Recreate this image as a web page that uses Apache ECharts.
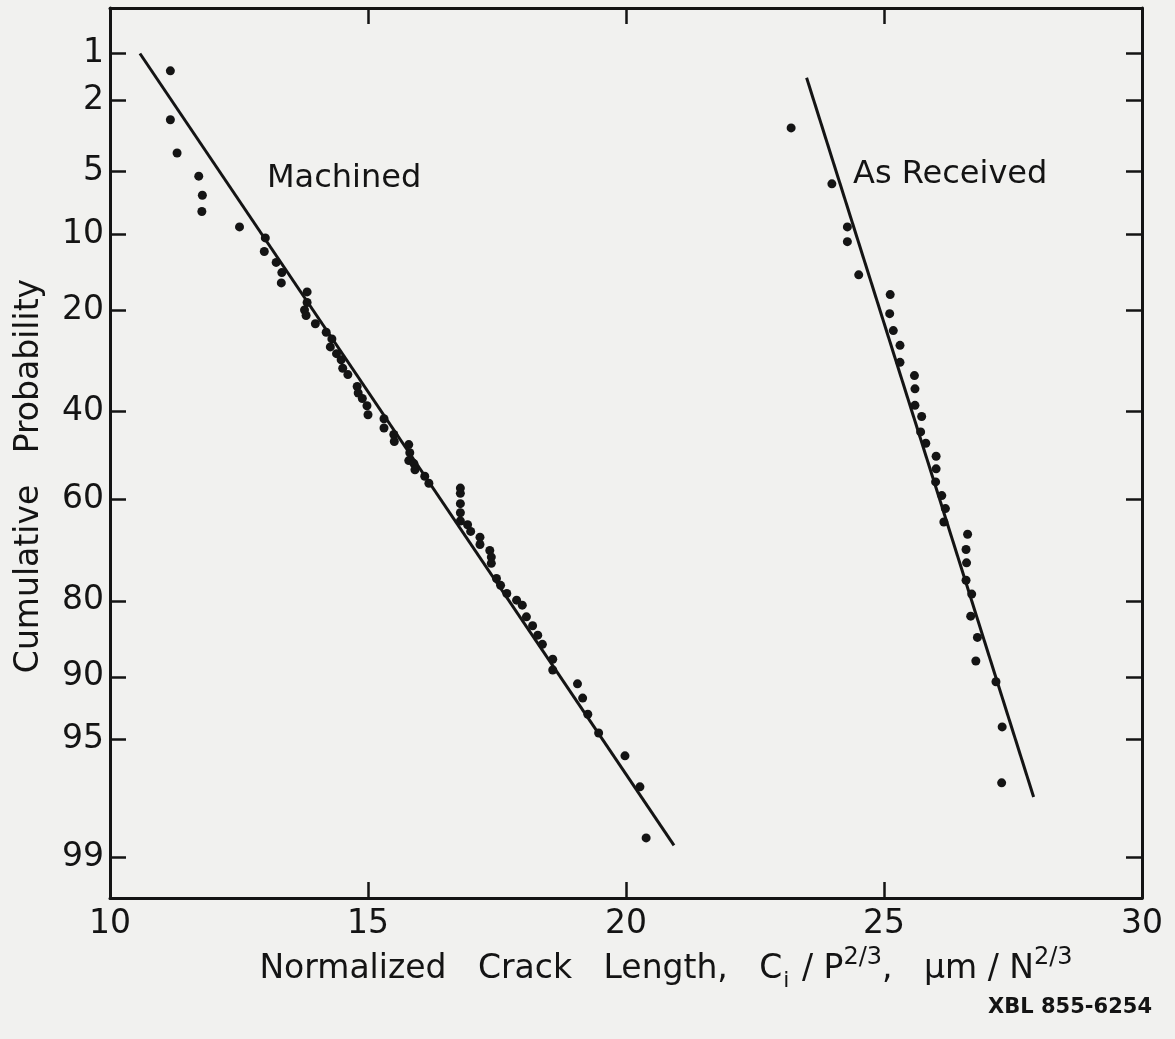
<!DOCTYPE html>
<html>
<head>
<meta charset="utf-8">
<script src="https://cdn.jsdelivr.net/npm/echarts@6/dist/echarts.min.js"></script>
<style>
html,body{margin:0;padding:0;background:#f1f1ef;}
#chart{width:1175px;height:1039px;}
</style>
</head>
<body>
<div id="chart"></div>
<script>
// ---- data (x = normalized crack length, p = cumulative probability in %) ----
const machinedX = [11.17,11.17,11.30,11.72,11.79,11.78,12.51,13.01,12.99,13.22,13.33,13.32,13.82,13.82,13.77,13.80,13.98,14.19,14.30,14.27,14.39,14.48,14.51,14.61,14.79,14.81,14.89,14.98,15.00,15.31,15.31,15.50,15.51,15.79,15.81,15.79,15.89,15.91,16.10,16.18,16.79,16.79,16.79,16.79,16.79,16.93,16.99,17.17,17.17,17.36,17.39,17.39,17.49,17.57,17.69,17.88,17.99,18.07,18.19,18.29,18.38,18.58,18.58,19.06,19.16,19.26,19.47,19.98,20.27,20.39];
const machinedP = [1.3,2.6,4.0,5.3,6.6,7.9,9.3,10.4,11.9,13.2,14.5,15.9,17.2,18.8,20.0,20.9,22.3,23.8,25.0,26.5,27.8,29.0,30.7,32.0,34.5,35.9,37.1,38.7,40.7,41.6,43.7,45.2,46.8,47.5,49.4,51.2,51.9,53.3,54.8,56.4,57.5,58.7,61.0,63.0,64.8,65.6,67.0,68.2,69.7,70.9,72.2,73.4,76.2,77.4,78.8,79.9,80.7,82.5,83.8,85.1,86.3,88.1,89.3,90.7,92.0,93.3,94.6,95.9,97.25,98.66];
const asReceivedX = [23.20,23.99,24.29,24.29,24.51,25.12,25.11,25.18,25.31,25.31,25.59,25.60,25.60,25.73,25.71,25.81,26.01,26.01,26.00,26.12,26.19,26.16,26.62,26.59,26.60,26.59,26.70,26.68,26.81,26.78,27.17,27.29,27.28];
const asReceivedP = [2.9,5.8,9.3,10.8,14.8,17.6,20.6,23.5,26.2,29.5,32.2,35.0,38.6,41.1,44.6,47.2,50.2,53.1,56.1,59.2,62.1,65.0,67.6,70.7,73.3,76.5,78.9,82.4,85.4,88.3,90.5,94.2,97.1];
const machinedFitX = [10.58, 20.93];
const machinedFitP = [1.0, 98.8];
const asReceivedFitX = [23.50, 27.90];
const asReceivedFitP = [1.44, 97.6];
const probTicks = [1,2,5,10,20,40,60,80,90,95,99];
const xTicks = [10,15,20,25,30];
const yRangeP = [0.48, 99.48];
const xRange = [10, 30];

// inverse standard normal CDF (Acklam)
function probit(p){
  const a=[-3.969683028665376e+01,2.209460984245205e+02,-2.759285104469687e+02,1.383577518672690e+02,-3.066479806614716e+01,2.506628277459239e+00];
  const b=[-5.447609879822406e+01,1.615858368580409e+02,-1.556989798598866e+02,6.680131188771972e+01,-1.328068155288572e+01];
  const c=[-7.784894002430293e-03,-3.223964580411365e-01,-2.400758277161838e+00,-2.549732539343734e+00,4.374664141464968e+00,2.938163982698783e+00];
  const d=[7.784695709041462e-03,3.224671290700398e-01,2.445134137142996e+00,3.754408661907416e+00];
  const pl=0.02425, ph=1-pl; let q,r;
  if(p<pl){q=Math.sqrt(-2*Math.log(p));return (((((c[0]*q+c[1])*q+c[2])*q+c[3])*q+c[4])*q+c[5])/((((d[0]*q+d[1])*q+d[2])*q+d[3])*q+1);}
  if(p<=ph){q=p-0.5;r=q*q;return (((((a[0]*r+a[1])*r+a[2])*r+a[3])*r+a[4])*r+a[5])*q/(((((b[0]*r+b[1])*r+b[2])*r+b[3])*r+b[4])*r+1);}
  q=Math.sqrt(-2*Math.log(1-p));return -(((((c[0]*q+c[1])*q+c[2])*q+c[3])*q+c[4])*q+c[5])/((((d[0]*q+d[1])*q+d[2])*q+d[3])*q+1);
}
const z = pct => probit(pct/100);
const pairs = (xs, ps) => xs.map((x,i)=>[x, z(ps[i])]);
const zTicks = probTicks.map(z);

const INK = '#141414';
const FONT = '"DejaVu Sans", "Open Sans", sans-serif';

const chart = echarts.init(document.getElementById('chart'));
const common = {
  min: xRange[0], max: xRange[1], interval: 5,
  axisLine: {show:true, onZero:false, lineStyle:{color:INK, width:3}},
  axisTick: {show:true, inside:true, length:16, lineStyle:{color:INK, width:2.5}},
  splitLine: {show:false}
};
const yCommon = {
  type:'value', inverse:true,
  min: z(yRangeP[0]), max: z(yRangeP[1]),
  axisLine: {show:true, onZero:false, lineStyle:{color:INK, width:3}},
  axisTick: {show:true, inside:true, length:16, customValues: zTicks, lineStyle:{color:INK, width:2.5}},
  splitLine: {show:false}
};
chart.setOption({
  backgroundColor:'#f1f1ef',
  animation:false,
  grid:{left:110, top:8, right:33, bottom:141, containLabel:false},
  xAxis:[
    Object.assign({type:'value', position:'bottom',
      axisLabel:{show:true, fontSize:33, color:INK, fontFamily:FONT, margin:10},
      name:'{t|Normalized   Crack   Length,   C}{sub|i}{t| / P}{sup|2/3}{t|,   \u03bcm / N}{sup|2/3}',
      nameLocation:'middle', nameGap:43,
      nameTextStyle:{color:INK, fontFamily:FONT, fontSize:33, padding:[0,0,0,80],
        rich:{
          t:{fontSize:33, fontFamily:FONT, color:INK, verticalAlign:'bottom', padding:[0,0,6,0]},
          sub:{fontSize:22, fontFamily:FONT, color:INK, verticalAlign:'bottom', padding:[0,2,0,1]},
          sup:{fontSize:24, fontFamily:FONT, color:INK, verticalAlign:'bottom', padding:[0,0,22,0]}
        }}
    }, common),
    Object.assign({type:'value', position:'top', axisLabel:{show:false}}, common)
  ],
  yAxis:[
    Object.assign({position:'left',
      axisLabel:{show:true, customValues: zTicks, fontSize:33, color:INK, fontFamily:FONT, margin:6,
        formatter: v => { const i = zTicks.findIndex(t => Math.abs(t - v) < 1e-6); return i >= 0 ? String(probTicks[i]) : ''; }},
      name:'Cumulative   Probability', nameLocation:'middle', nameGap:64,
      nameTextStyle:{color:INK, fontFamily:FONT, fontSize:33, padding:[0,46,0,0]}
    }, yCommon),
    Object.assign({position:'right', axisLabel:{show:false}}, yCommon)
  ],
  series:[
    {type:'scatter', name:'Machined', data:pairs(machinedX, machinedP), symbolSize:9, itemStyle:{color:INK, opacity:1}},
    {type:'scatter', name:'As Received', data:pairs(asReceivedX, asReceivedP), symbolSize:9, itemStyle:{color:INK, opacity:1}},
    {type:'line', data:pairs(machinedFitX, machinedFitP), symbol:'none', lineStyle:{color:INK, width:3}},
    {type:'line', data:pairs(asReceivedFitX, asReceivedFitP), symbol:'none', lineStyle:{color:INK, width:3}}
  ],
  graphic:[
    {type:'text', left:267, top:163, style:{text:'Machined', font:'32px '+FONT, fill:INK}},
    {type:'text', left:853, top:159, style:{text:'As Received', font:'32px '+FONT, fill:INK}},
    {type:'text', right:23, top:997, style:{text:'XBL 855-6254', font:'bold 21px "DejaVu Sans", sans-serif', fill:INK}}
  ]
});
</script>
</body>
</html>
